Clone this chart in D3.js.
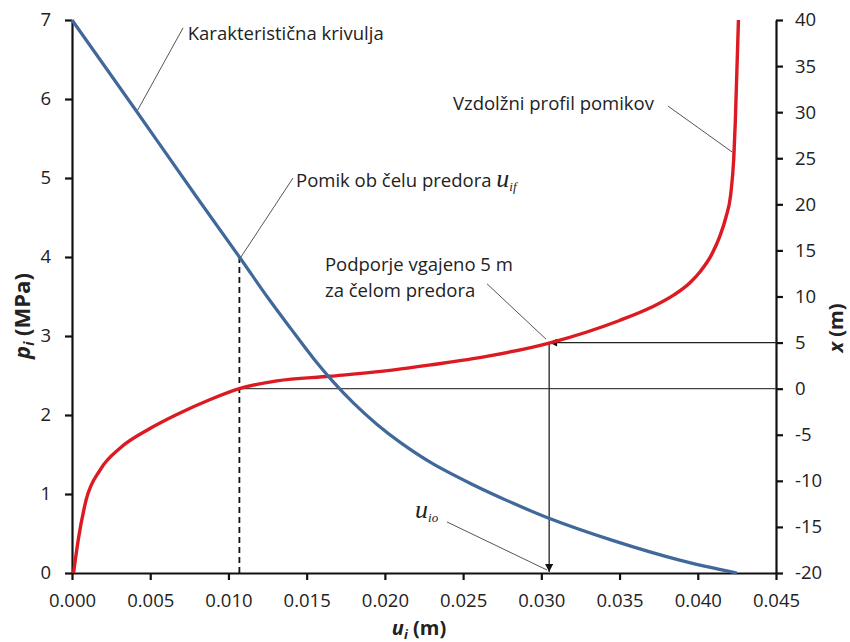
<!DOCTYPE html>
<html>
<head>
<meta charset="utf-8">
<script src="https://cdn.jsdelivr.net/npm/d3@7"></script>
<style>
  body { margin: 0; background: #fff; }
  text { font-family: "Open Sans", sans-serif; fill: #222; }
</style>
</head>
<body>
<script>
// characteristic curve  p_i (MPa) vs u_i (m)
var blueU = [0, 0.004, 0.008, 0.0107, 0.0125, 0.0140, 0.0155, 0.0167, 0.0180, 0.0195, 0.0210, 0.0230, 0.0255, 0.0280, 0.0304, 0.0346, 0.0389, 0.0425];
var blueP = [7, 5.88, 4.75, 4.0, 3.49, 3.09, 2.70, 2.42, 2.15, 1.88, 1.65, 1.39, 1.13, 0.90, 0.70, 0.41, 0.16, 0];

// longitudinal displacement profile  x (m) vs u_i (m)
var redU = [0.0001, 0.0004, 0.0009, 0.0018, 0.0031, 0.0049, 0.0067, 0.0088, 0.0107, 0.0131, 0.0165, 0.0199, 0.0230, 0.0265, 0.0305, 0.0350, 0.0370, 0.0385, 0.0395, 0.0402, 0.0409, 0.0414, 0.0418, 0.0421, 0.0423, 0.0424, 0.0426];
var redX = [-20, -16.4, -12.1, -8.8, -6.4, -4.4, -2.8, -1.2, 0, 0.85, 1.35, 1.9, 2.6, 3.5, 4.95, 7.4, 8.8, 10.2, 11.5, 12.8, 14.6, 16.5, 18.6, 21.0, 25.0, 29.0, 40];

var uTicks = [0, 0.005, 0.010, 0.015, 0.020, 0.025, 0.030, 0.035, 0.040, 0.045];
var pTicks = [0, 1, 2, 3, 4, 5, 6, 7];
var xTicks = [-20, -15, -10, -5, 0, 5, 10, 15, 20, 25, 30, 35, 40];

var uif = 0.0107, pif = 4;      // face displacement
var uio = 0.0305, xSupport = 5; // support installed 5 m behind face

var width = 850, height = 642;

var xScale = d3.scaleLinear().domain([0, 0.045]).range([72, 776]);
var pScale = d3.scaleLinear().domain([0, 7]).range([573, 20]);
var mScale = d3.scaleLinear().domain([-20, 40]).range([573, 20]);

var svg = d3.select("body")
    .append("svg")
    .attr("width", width)
    .attr("height", height);

svg.append("defs").append("marker")
    .attr("id", "arrow")
    .attr("viewBox", "0 0 10 10")
    .attr("refX", 10)
    .attr("refY", 5)
    .attr("markerWidth", 9)
    .attr("markerHeight", 8)
    .attr("markerUnits", "userSpaceOnUse")
    .attr("orient", "auto")
  .append("path")
    .attr("d", "M0,0L10,5L0,10Z")
    .attr("fill", "#111");

// axes
var gx = svg.append("g")
    .attr("transform", "translate(0," + pScale(0) + ")")
    .call(d3.axisBottom(xScale).tickValues(uTicks).tickFormat(d3.format(".3f"))
        .tickSize(7).tickSizeOuter(0).tickPadding(14));

var gy = svg.append("g")
    .attr("transform", "translate(" + xScale(0) + ",0)")
    .call(d3.axisLeft(pScale).tickValues(pTicks).tickFormat(d => String(d))
        .tickSize(7).tickSizeOuter(0).tickPadding(14));

var gy2 = svg.append("g")
    .attr("transform", "translate(" + xScale(0.045) + ",0)")
    .call(d3.axisRight(mScale).tickValues(xTicks).tickFormat(d => String(d))
        .tickSize(7).tickSizeOuter(0).tickPadding(12));

[gx, gy, gy2].forEach(g => {
    g.select(".domain").attr("stroke", "#111").attr("stroke-width", 2.2);
    g.selectAll(".tick line").attr("stroke", "#111").attr("stroke-width", 2.2);
    g.selectAll(".tick text").attr("font-size", 18.5).attr("fill", "#222")
        .style("font-family", "'Open Sans', sans-serif");
});

// helper lines
svg.append("line")
    .attr("x1", xScale(uif)).attr("x2", xScale(uif))
    .attr("y1", pScale(pif)).attr("y2", pScale(0))
    .attr("stroke", "#111").attr("stroke-width", 1.8)
    .attr("stroke-dasharray", "6,4");

svg.append("line")
    .attr("x1", xScale(uif)).attr("x2", xScale(0.045))
    .attr("y1", mScale(0)).attr("y2", mScale(0))
    .attr("stroke", "#444").attr("stroke-width", 1.3);

svg.append("line")
    .attr("x1", xScale(0.045)).attr("x2", xScale(uio))
    .attr("y1", mScale(xSupport)).attr("y2", mScale(xSupport))
    .attr("stroke", "#222").attr("stroke-width", 1.3)
    .attr("marker-end", "url(#arrow)");

svg.append("line")
    .attr("x1", xScale(uio)).attr("x2", xScale(uio))
    .attr("y1", mScale(xSupport)).attr("y2", pScale(0) - 1)
    .attr("stroke", "#222").attr("stroke-width", 1.3)
    .attr("marker-end", "url(#arrow)");

// curves
var redData = redU.map((u, i) => ({ u: u, v: redX[i] }));
var blueData = blueU.map((u, i) => ({ u: u, v: blueP[i] }));

svg.append("path")
    .datum(redData)
    .attr("fill", "none")
    .attr("stroke", "#dc1a22")
    .attr("stroke-width", 3.4)
    .attr("d", d3.line().x(d => xScale(d.u)).y(d => mScale(d.v)).curve(d3.curveMonotoneX));

svg.append("path")
    .datum(blueData)
    .attr("fill", "none")
    .attr("stroke", "#40689a")
    .attr("stroke-width", 3.2)
    .attr("d", d3.line().x(d => xScale(d.u)).y(d => pScale(d.v)).curve(d3.curveCatmullRom.alpha(0.5)));

// leader lines (data coordinates on the left scale)
var leaders = [
    [0.0042, 5.86, 0.0071, 6.90],
    [0.0108, 4.0, 0.01413, 5.0],
    [0.02653, 3.66, 0.0303, 2.96],
    [0.0381, 5.91, 0.04219, 5.33],
    [0.02397, 0.646, 0.03036, 0.038]
];
svg.selectAll(".leader")
    .data(leaders)
    .enter()
    .append("line")
    .attr("class", "leader")
    .attr("x1", d => xScale(d[0])).attr("y1", d => pScale(d[1]))
    .attr("x2", d => xScale(d[2])).attr("y2", d => pScale(d[3]))
    .attr("stroke", "#555").attr("stroke-width", 1);

var fs = 18.5;

svg.append("text")
    .attr("x", xScale(0.0074)).attr("y", pScale(6.747))
    .attr("font-size", fs)
    .text("Karakteristična krivulja");

var t2 = svg.append("text")
    .attr("x", xScale(0.01432)).attr("y", pScale(4.886))
    .attr("font-size", fs);
t2.append("tspan").text("Pomik ob čelu predora ");
t2.append("tspan").text("u")
    .attr("font-size", 26).attr("font-style", "italic")
    .style("font-family", "'Liberation Serif', serif");
t2.append("tspan").text("if")
    .attr("font-size", 13).attr("font-style", "italic").attr("dy", 4)
    .style("font-family", "'Liberation Serif', serif");

svg.append("text")
    .attr("x", xScale(0.01617)).attr("y", pScale(3.823))
    .attr("font-size", fs)
    .text("Podporje vgajeno 5 m");
svg.append("text")
    .attr("x", xScale(0.01617)).attr("y", pScale(3.494))
    .attr("font-size", fs)
    .text("za čelom predora");

svg.append("text")
    .attr("x", xScale(0.0372)).attr("y", pScale(5.861))
    .attr("text-anchor", "end")
    .attr("font-size", fs)
    .text("Vzdolžni profil pomikov");

var t5 = svg.append("text")
    .attr("x", xScale(0.02193)).attr("y", pScale(0.696));
t5.append("tspan").text("u")
    .attr("font-size", 26).attr("font-style", "italic")
    .style("font-family", "'Liberation Serif', serif");
t5.append("tspan").text("io")
    .attr("font-size", 13).attr("font-style", "italic").attr("dy", 4)
    .style("font-family", "'Liberation Serif', serif");

// axis titles
var tb = svg.append("text")
    .attr("x", 419).attr("y", 635)
    .attr("text-anchor", "middle")
    .attr("font-size", 20).attr("font-weight", "bold");
tb.append("tspan").text("u").attr("font-style", "italic");
tb.append("tspan").text("i").attr("font-style", "italic").attr("font-size", 13).attr("dy", 4);
tb.append("tspan").text(" (m)").attr("dy", -4);

var tl = svg.append("text")
    .attr("transform", "translate(30,316) rotate(-90)")
    .attr("text-anchor", "middle")
    .attr("font-size", 22).attr("font-weight", "bold");
tl.append("tspan").text("p").attr("font-style", "italic");
tl.append("tspan").text("i").attr("font-style", "italic").attr("font-size", 14).attr("dy", 4);
tl.append("tspan").text(" (MPa)").attr("dy", -4);

var tr = svg.append("text")
    .attr("transform", "translate(843,328) rotate(-90)")
    .attr("text-anchor", "middle")
    .attr("font-size", 20).attr("font-weight", "bold");
tr.append("tspan").text("x").attr("font-style", "italic");
tr.append("tspan").text(" (m)");
</script>
</body>
</html>
